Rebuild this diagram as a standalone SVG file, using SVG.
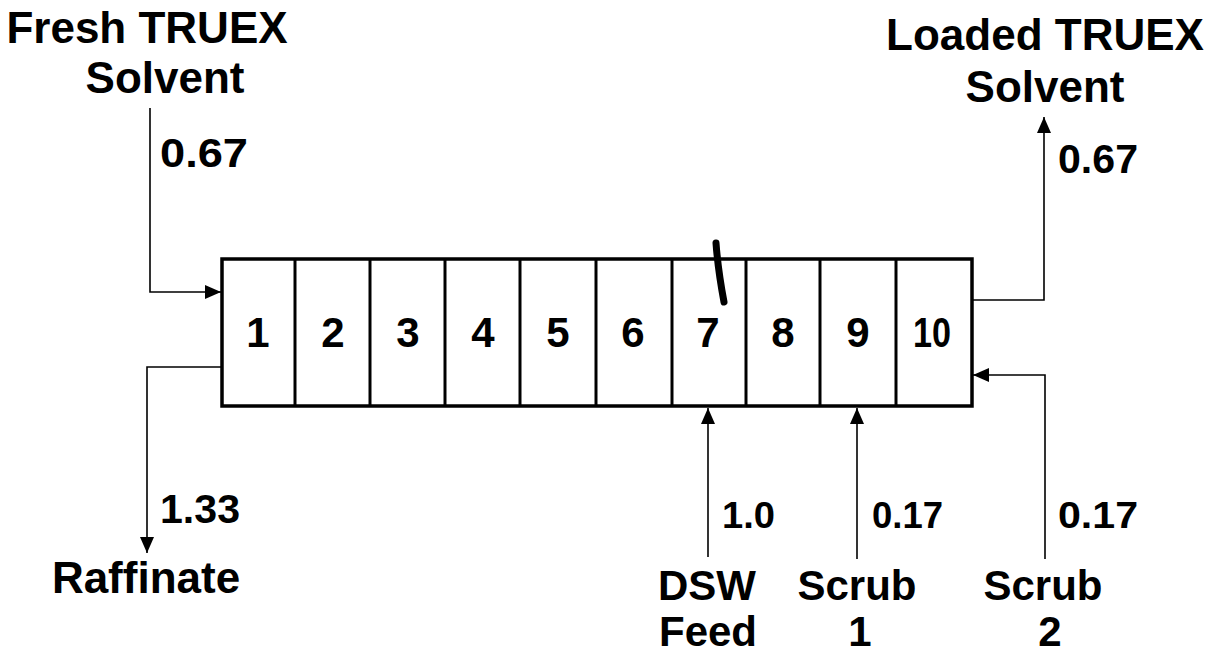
<svg xmlns="http://www.w3.org/2000/svg" width="1213" height="658" viewBox="0 0 1213 658">
<style>
  text { font-family: "Liberation Sans", Arial, sans-serif; font-weight: bold; fill: #000; }
  .lbl { font-size: 44px; }
  .lbl2 { font-size: 42px; }
  .num { font-size: 41px; }
  .bnum { font-size: 37px; }
  .cell { font-size: 42px; text-anchor: middle; }
  .con { fill: none; stroke: #000; stroke-width: 1.6; }
  .box { fill: #fff; stroke: #000; stroke-width: 3.5; }
  .div { stroke: #000; stroke-width: 3; }
</style>
<defs>
  <marker id="ah" markerUnits="userSpaceOnUse" markerWidth="17" markerHeight="14" refX="16" refY="7" orient="auto">
    <path d="M0,0 L16,7 L0,14 z" fill="#000"/>
  </marker>
</defs>
<rect width="1213" height="658" fill="#fff"/>

<g id="column">
  <rect class="box" x="222" y="259" width="750" height="147"/>
  <line class="div" x1="295" y1="259" x2="295" y2="406"/>
  <line class="div" x1="370" y1="259" x2="370" y2="406"/>
  <line class="div" x1="445" y1="259" x2="445" y2="406"/>
  <line class="div" x1="520" y1="259" x2="520" y2="406"/>
  <line class="div" x1="596" y1="259" x2="596" y2="406"/>
  <line class="div" x1="672" y1="259" x2="672" y2="406"/>
  <line class="div" x1="746" y1="259" x2="746" y2="406"/>
  <line class="div" x1="820" y1="259" x2="820" y2="406"/>
  <line class="div" x1="896" y1="259" x2="896" y2="406"/>
  <text class="cell" x="258" y="347">1</text>
  <text class="cell" x="333" y="347">2</text>
  <text class="cell" x="408" y="347">3</text>
  <text class="cell" x="483" y="347">4</text>
  <text class="cell" x="558" y="347">5</text>
  <text class="cell" x="633" y="347">6</text>
  <text class="cell" x="708" y="347">7</text>
  <text class="cell" x="783" y="347">8</text>
  <text class="cell" x="858" y="347">9</text>
  <text class="cell" x="932" y="347" textLength="38" lengthAdjust="spacingAndGlyphs">10</text>
  <path d="M716,243 Q718,270 724,302" fill="none" stroke="#000" stroke-width="7" stroke-linecap="round"/>
</g>

<g id="connectors">
  <path class="con" d="M150,108 V292 H221" marker-end="url(#ah)"/>
  <path class="con" d="M222,367 H147 V553" marker-end="url(#ah)"/>
  <path class="con" d="M972,300 H1044 V117" marker-end="url(#ah)"/>
  <path class="con" d="M1045,559 V375 H973" marker-end="url(#ah)"/>
  <path class="con" d="M708,557 V408" marker-end="url(#ah)"/>
  <path class="con" d="M857,559 V408" marker-end="url(#ah)"/>
</g>

<g id="fresh-solvent">
  <text class="lbl" x="147" y="43" text-anchor="middle">Fresh TRUEX</text>
  <text class="lbl" x="165" y="93" text-anchor="middle">Solvent</text>
  <text class="num" x="160" y="167" textLength="88" lengthAdjust="spacingAndGlyphs">0.67</text>
</g>

<g id="loaded-solvent">
  <text class="lbl" x="1045" y="50" text-anchor="middle">Loaded TRUEX</text>
  <text class="lbl" x="1045" y="102" text-anchor="middle">Solvent</text>
  <text class="num" x="1058" y="173" textLength="80" lengthAdjust="spacingAndGlyphs">0.67</text>
</g>

<g id="raffinate">
  <text class="num" x="160" y="523" textLength="80" lengthAdjust="spacingAndGlyphs">1.33</text>
  <text class="lbl" x="146" y="593" text-anchor="middle">Raffinate</text>
</g>

<g id="dsw-feed">
  <text class="bnum" x="722" y="528" textLength="53" lengthAdjust="spacingAndGlyphs">1.0</text>
  <text class="lbl2" x="707" y="600" text-anchor="middle">DSW</text>
  <text class="lbl2" x="708" y="646" text-anchor="middle">Feed</text>
</g>

<g id="scrub-1">
  <text class="bnum" x="872" y="528" textLength="71" lengthAdjust="spacingAndGlyphs">0.17</text>
  <text class="lbl2" x="857" y="600" text-anchor="middle">Scrub</text>
  <text class="lbl2" x="860" y="646" text-anchor="middle">1</text>
</g>

<g id="scrub-2">
  <text class="bnum" x="1058" y="528" textLength="80" lengthAdjust="spacingAndGlyphs">0.17</text>
  <text class="lbl2" x="1043" y="600" text-anchor="middle">Scrub</text>
  <text class="lbl2" x="1050" y="646" text-anchor="middle">2</text>
</g>
</svg>
